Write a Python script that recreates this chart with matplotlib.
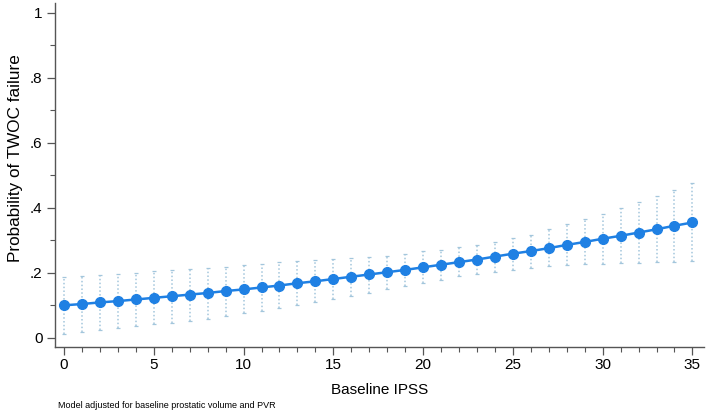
import numpy as np
import matplotlib.pyplot as plt
from matplotlib.ticker import MultipleLocator, FixedLocator

plt.rcParams['font.family'] = ['Liberation Sans', 'DejaVu Sans']

# Baseline IPSS e probabilidade prevista (com IC 95%)
ipss = list(range(0, 36))
prob = [0.100, 0.104, 0.109, 0.113, 0.118, 0.123, 0.128, 0.133, 0.138, 0.144,
        0.149, 0.155, 0.161, 0.168, 0.174, 0.181, 0.188, 0.195, 0.202, 0.209,
        0.217, 0.225, 0.233, 0.241, 0.250, 0.259, 0.267, 0.276, 0.286, 0.295,
        0.305, 0.314, 0.324, 0.334, 0.345, 0.355]
ci_low = [0.012, 0.018, 0.024, 0.030, 0.035, 0.041, 0.047, 0.052, 0.059, 0.068,
          0.076, 0.083, 0.092, 0.100, 0.109, 0.120, 0.128, 0.138, 0.150, 0.160,
          0.170, 0.178, 0.189, 0.196, 0.203, 0.210, 0.216, 0.222, 0.224, 0.226,
          0.227, 0.229, 0.231, 0.233, 0.234, 0.236]
ci_high = [0.188, 0.190, 0.193, 0.196, 0.200, 0.206, 0.209, 0.211, 0.216, 0.219,
           0.224, 0.227, 0.232, 0.236, 0.239, 0.243, 0.245, 0.250, 0.253, 0.257,
           0.266, 0.271, 0.278, 0.286, 0.294, 0.306, 0.318, 0.334, 0.349, 0.365,
           0.382, 0.400, 0.419, 0.436, 0.455, 0.476]
yticks = [0, 0.2, 0.4, 0.6, 0.8, 1.0]
ytick_labels = ['0', '.2', '.4', '.6', '.8', '1']
xticks = [0, 5, 10, 15, 20, 25, 30, 35]

fig = plt.figure(figsize=(7.09, 4.12), dpi=100)
ax = fig.add_axes([0.0776, 0.158, 0.916, 0.835])

x = np.array(ipss)
p = np.array(prob)
lo = np.array(ci_low)
hi = np.array(ci_high)

# Intervalos de confiança (pontilhados, azul claro)
ci_color = '#a3c6dc'
ax.vlines(x, lo, hi, colors=ci_color, linestyles=(0, (1, 1.5)), linewidth=1.1, zorder=1)
ax.plot(x, hi, linestyle='none', marker='_', markersize=3.5, color=ci_color, mew=0.9, zorder=1)
ax.plot(x, lo, linestyle='none', marker='_', markersize=3.5, color=ci_color, mew=0.9, zorder=1)

# Curva prevista
ax.plot(x, p, color='#1f80e3', linewidth=1.8, marker='o', markersize=7, zorder=3)

ax.set_xlim(-0.5, 35.67)
ax.set_ylim(-0.028, 1.031)

ax.spines['top'].set_visible(False)
ax.spines['right'].set_visible(False)
for s in ['left', 'bottom']:
    ax.spines[s].set_color('#555555')
    ax.spines[s].set_linewidth(1.0)

ax.yaxis.set_major_locator(FixedLocator(yticks))
ax.set_yticklabels(ytick_labels)
ax.yaxis.set_minor_locator(MultipleLocator(0.1))
ax.xaxis.set_major_locator(FixedLocator(xticks))
ax.xaxis.set_minor_locator(MultipleLocator(1))
ax.tick_params(which='major', length=6, width=0.9, color='#555555', labelsize=11, pad=3)
ax.tick_params(axis='x', which='major', pad=2)
ax.tick_params(which='minor', length=3.5, width=0.8, color='#555555')

ax.set_xlabel('Baseline IPSS', fontsize=11)
ax.xaxis.set_label_coords(0.5, -0.105)
ax.set_ylabel('Probability of TWOC failure', fontsize=12.3)
ax.yaxis.set_label_coords(-0.050, 0.55)

fig.text(0.082, 0.01, 'Model adjusted for baseline prostatic volume and PVR', fontsize=6.5)

fig.savefig('out.png', dpi=100)
